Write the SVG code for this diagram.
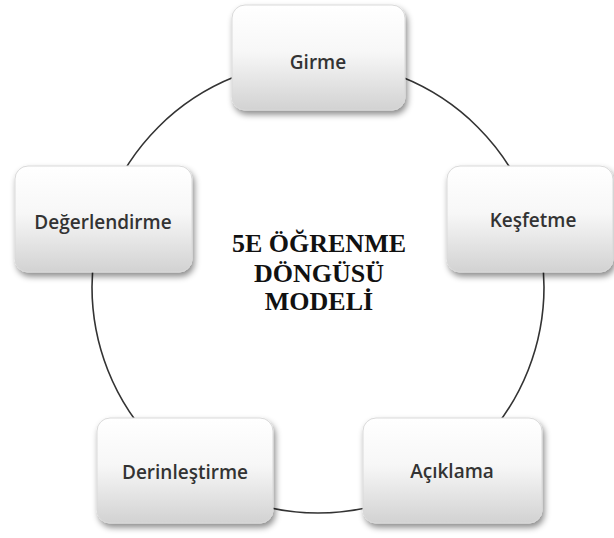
<svg xmlns="http://www.w3.org/2000/svg" width="614" height="538" viewBox="0 0 614 538">
<defs>
<linearGradient id="boxFill" x1="0" y1="0" x2="0" y2="1">
<stop offset="0" stop-color="#ffffff"/>
<stop offset="0.45" stop-color="#f7f7f7"/>
<stop offset="1" stop-color="#d2d2d2"/>
</linearGradient>
<filter id="shadow" x="-10%" y="-10%" width="125%" height="130%">
<feDropShadow dx="2" dy="4" stdDeviation="3" flood-color="#000" flood-opacity="0.45"/>
</filter>
</defs>
<style>
.box{fill:url(#boxFill);stroke:#d9d9d9;stroke-width:1;filter:url(#shadow)}
.lbl{font-family:"Open Sans","DejaVu Sans",sans-serif;font-size:19px;font-weight:600;fill:#333;text-anchor:middle;dominant-baseline:central}
.title{font-family:"Liberation Serif","Times New Roman",serif;font-weight:bold;font-size:26px;fill:#111;text-anchor:middle}
.ring{fill:none;stroke:#333;stroke-width:1.6}
</style>
<rect width="614" height="538" fill="#ffffff"/>
<g id="connectors">
<circle class="ring" cx="318" cy="287" r="226"/>
</g>
<g id="girme">
<rect class="box" x="232" y="5" width="173" height="105" rx="13"/>
<text class="lbl" x="318" y="62">Girme</text>
</g>
<g id="kesfetme">
<rect class="box" x="447" y="166" width="166" height="106" rx="13"/>
<text class="lbl" x="533" y="220">Keşfetme</text>
</g>
<g id="aciklama">
<rect class="box" x="363" y="418" width="179" height="105" rx="13"/>
<text class="lbl" x="452" y="471">Açıklama</text>
</g>
<g id="derinlestirme">
<rect class="box" x="97" y="418" width="176" height="105" rx="13"/>
<text class="lbl" x="185" y="472">Derinleştirme</text>
</g>
<g id="degerlendirme">
<rect class="box" x="15" y="166" width="177" height="106" rx="13"/>
<text class="lbl" x="103" y="222">Değerlendirme</text>
</g>
<g id="title">
<text class="title" x="319" y="252">5E ÖĞRENME</text>
<text class="title" x="319" y="282">DÖNGÜSÜ</text>
<text class="title" x="319" y="310">MODELİ</text>
</g>
</svg>
